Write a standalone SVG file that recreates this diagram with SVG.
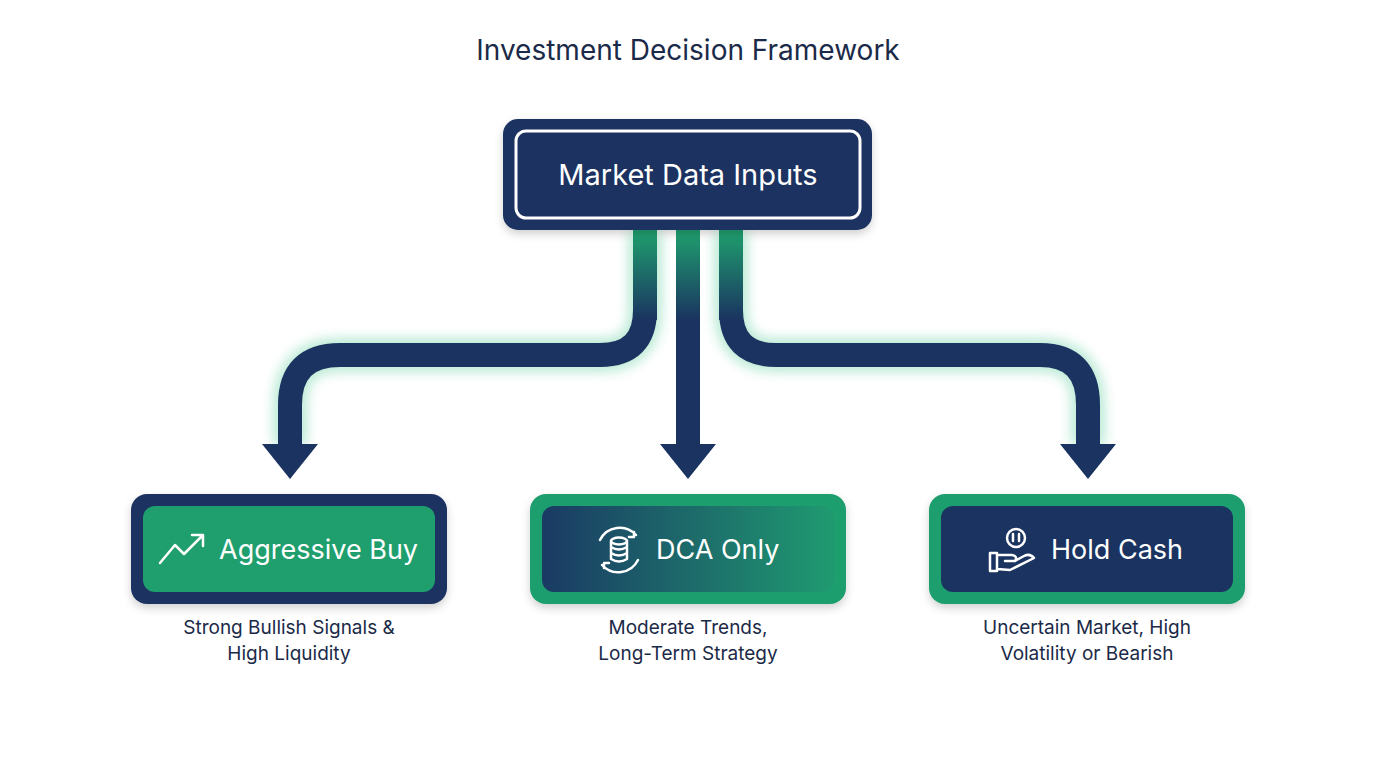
<svg xmlns="http://www.w3.org/2000/svg" width="1376" height="768" viewBox="0 0 1376 768">
<style>
.t{font-family:Inter,"Liberation Sans",sans-serif}
.conn{fill:none;stroke:#1a3360;stroke-width:24}
.glow{fill:none;stroke:#3ec48a;stroke-width:34;opacity:.35;filter:url(#bl)}
.sub{font-size:19px;fill:#1b2a48;text-anchor:middle}
.lbl{font-size:27px;fill:#fff}
.ic{fill:none;stroke:#fff;stroke-width:2.5;stroke-linecap:round;stroke-linejoin:round}
</style>
<defs>
<filter id="bl" x="-20%" y="-20%" width="140%" height="140%"><feGaussianBlur stdDeviation="6"/></filter>
<filter id="sh" x="-10%" y="-10%" width="120%" height="130%"><feDropShadow dx="0" dy="4" stdDeviation="4" flood-color="#000" flood-opacity="0.18"/></filter>
<linearGradient id="g2" x1="0" x2="1"><stop offset="0" stop-color="#1a3a64"/><stop offset="0.5" stop-color="#1d6a6a"/><stop offset="1" stop-color="#1f9a70"/></linearGradient>
<linearGradient id="vg" gradientUnits="userSpaceOnUse" x1="0" y1="232" x2="0" y2="320"><stop offset="0" stop-color="#1f9e6e"/><stop offset="1" stop-color="#1a3360"/></linearGradient>
</defs>
<rect width="1376" height="768" fill="#fff"/>
<text class="t" x="688" y="60" font-size="28" fill="#1b2a48" text-anchor="middle">Investment Decision Framework</text>
<g id="connectors">
<path class="glow" d="M645 232 V310 Q645 355 600 355 H340 Q290 355 290 405 V445"/>
<path class="glow" d="M688 232 V445"/>
<path class="glow" d="M731 232 V310 Q731 355 776 355 H1040 Q1088 355 1088 405 V445"/>
<path class="conn" d="M645 232 V310 Q645 355 600 355 H340 Q290 355 290 405 V448"/>
<path class="conn" d="M688 232 V448"/>
<path class="conn" d="M731 232 V310 Q731 355 776 355 H1040 Q1088 355 1088 405 V448"/>
<rect x="633" y="230" width="24" height="90" fill="url(#vg)"/>
<rect x="676" y="230" width="24" height="90" fill="url(#vg)"/>
<rect x="719" y="230" width="24" height="90" fill="url(#vg)"/>
<polygon points="262,444 318,444 290,479" fill="#1a3360"/>
<polygon points="660,444 716,444 688,479" fill="#1a3360"/>
<polygon points="1060,444 1116,444 1088,479" fill="#1a3360"/>
</g>
<g id="top">
<rect x="503" y="119" width="369" height="111" rx="15" fill="#1a3360" filter="url(#sh)"/>
<rect x="516" y="131" width="344" height="87" rx="10" fill="none" stroke="#fff" stroke-width="3"/>
<text class="t" x="688" y="185" font-size="29" fill="#fff" text-anchor="middle">Market Data Inputs</text>
</g>
<g id="aggressive">
<rect x="131" y="494" width="316" height="110" rx="16" fill="#1a3360" filter="url(#sh)"/>
<rect x="143" y="506" width="292" height="86" rx="12" fill="#1f9e6e"/>
<path class="ic" d="M160 563 L175 545 L184 554 L203 535 M192 535 H203 V546"/>
<text class="t lbl" x="219" y="559">Aggressive Buy</text>
<text class="t sub" x="289" y="634">Strong Bullish Signals &amp;</text>
<text class="t sub" x="289" y="660">High Liquidity</text>
</g>
<g id="dca">
<rect x="530" y="494" width="316" height="110" rx="16" fill="#1f9e6e" filter="url(#sh)"/>
<rect x="542" y="506" width="292" height="86" rx="12" fill="url(#g2)"/>
<g class="ic">
<path d="M600 540 A22 22 0 0 1 636 535 M634 532 V537 H629"/>
<path d="M638 560 A22 22 0 0 1 602 565 M604 568 V563 H609"/>
<ellipse cx="619" cy="541" rx="8" ry="3.5"/>
<path d="M611 541 V559 Q619 564 627 559 V541 M611 547 Q619 552 627 547 M611 553 Q619 558 627 553"/>
</g>
<text class="t lbl" x="656" y="559">DCA Only</text>
<text class="t sub" x="688" y="634">Moderate Trends,</text>
<text class="t sub" x="688" y="660">Long-Term Strategy</text>
</g>
<g id="hold">
<rect x="929" y="494" width="316" height="110" rx="16" fill="#1f9e6e" filter="url(#sh)"/>
<rect x="941" y="506" width="292" height="86" rx="12" fill="#1a3360"/>
<g class="ic">
<circle cx="1016" cy="538" r="9"/>
<path d="M1013 534 V541 M1019 534 V541"/>
<path d="M990 553 H997 V571 H990 Z M997 555 H1012 Q1018 556 1015 561 H1005 M997 569 L1010 570 L1034 558 Q1030 553 1024 556 L1015 561"/>
</g>
<text class="t lbl" x="1051" y="559">Hold Cash</text>
<text class="t sub" x="1087" y="634">Uncertain Market, High</text>
<text class="t sub" x="1087" y="660">Volatility or Bearish</text>
</g>
</svg>
